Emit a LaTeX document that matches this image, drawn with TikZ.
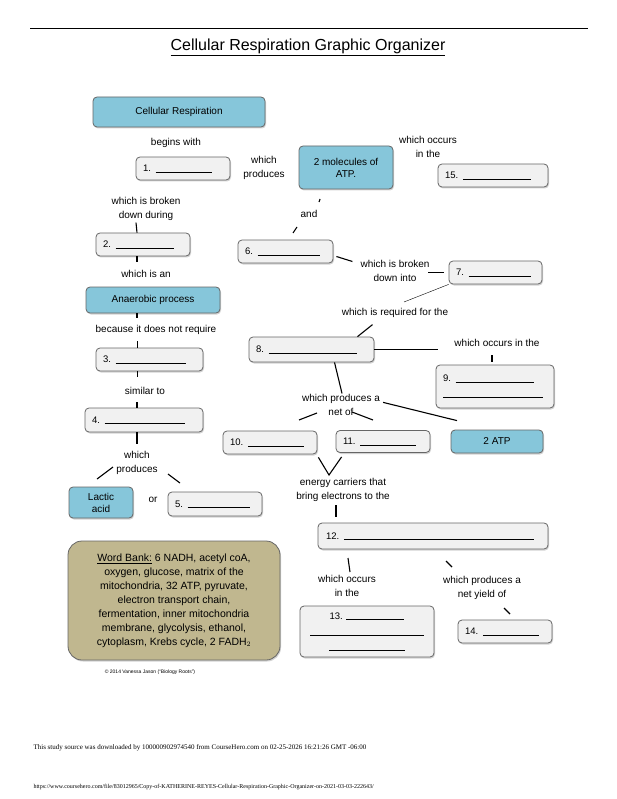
\documentclass[tikz,border=0pt]{standalone}
\usepackage{fontspec}
\setmainfont{Liberation Sans}
\newfontfamily\footfont{Liberation Serif}
\usetikzlibrary{positioning, shadows}

\definecolor{cellblue}{RGB}{134,198,218}
\definecolor{blankgray}{RGB}{241,241,241}
\definecolor{banktan}{RGB}{192,183,143}

\tikzset{
  box/.style={draw=black!60, line width=0.8pt, rounded corners=4pt,
    drop shadow={shadow xshift=1pt, shadow yshift=-1.5pt, fill=black!35},
    inner sep=0pt, font=\fontsize{9.5}{11.5}\selectfont},
  blank/.style={box, fill=blankgray, align=left},
  blue/.style={box, fill=cellblue, align=center, font=\fontsize{10}{12}\selectfont},
  lbl/.style={align=center, inner sep=1pt, font=\fontsize{10}{13.5}\selectfont},
  tick/.style={line width=1.1pt},
}
\newcommand{\gap}[1]{\rule[-0.5pt]{#1pt}{0.4pt}}

\begin{document}
\begin{tikzpicture}[x=1pt, y=-1pt]
\useasboundingbox (0,0) rectangle (617,799);
\draw[line width=0.6pt] (30,28) -- (588,28);
\node[font=\fontsize{16}{18}\selectfont] (title) at (308,47) {\underline{Cellular Respiration Graphic Organizer}};

% left column
\node[blue, minimum width=172, minimum height=30] (cr) at (179,112) {Cellular Respiration};
\node[lbl] (t1) at (176,143) {begins with};
\node[blank, minimum width=94, minimum height=23, text width=80] (b1) at (183,168.5) {1. \gap{56}};
\node[lbl] (t2) at (146,209) {which is broken\\down during};
\node[blank, minimum width=94, minimum height=23, text width=80] (b2) at (143,244.5) {2. \gap{58}};
\node[lbl] (t3) at (146,274) {which is an};
\node[blue, minimum width=134, minimum height=26] (ana) at (153,300) {Anaerobic process};
\node[lbl] (t4) at (156,330) {because it does not require};
\node[blank, minimum width=107, minimum height=23, text width=93] (b3) at (149.5,359.5) {3. \gap{70}};
\node[lbl] (t5) at (145,391) {similar to};
\node[blank, minimum width=118, minimum height=24, text width=104] (b4) at (144,420) {4. \gap{80}};
\node[lbl] (t6) at (137,463) {which\\produces};
\node[blue, minimum width=64, minimum height=31] (lac) at (101,502.5) {Lactic\\acid};
\node[lbl] (or) at (153,500) {or};
\node[blank, minimum width=94, minimum height=24, text width=80] (b5) at (215,504) {5. \gap{62}};

\draw[tick] (t2.south) ++(-10,1) -- ([xshift=-6]b2.north);
\draw[tick] ([xshift=-6]b2.south) -- ++(0,6);
\draw[tick] ([xshift=-16]ana.south) -- ++(0,5);
\draw[tick] ([xshift=-12]b3.north) -- ++(0,-7);
\draw[tick] ([xshift=-12]b3.south) -- ++(0,6);
\draw[tick] ([xshift=-7]b4.north) -- ++(0,-6);
\draw[tick] ([xshift=-7]b4.south) -- ++(0,12);
\draw[tick] (97,479) -- (113,467);
\draw[tick] (168,474) -- (180,483);

% middle and right
\node[lbl] (t7) at (264,168) {which\\produces};
\node[blue, minimum width=94, minimum height=43] (atp) at (346,167.5) {2 molecules of\\ATP.};
\node[lbl] (t8) at (428,147) {which occurs\\in the};
\node[blank, minimum width=110, minimum height=23, text width=96] (b15) at (493,175.5) {15. \gap{68}};
\node[lbl] (t9) at (309,214) {and};
\draw[tick] (320,199) -- (319,202);
\draw[tick] (293,233) -- (297,227);
\node[blank, minimum width=95, minimum height=23, text width=81] (b6) at (285.5,251.5) {6. \gap{62}};
\node[lbl] (t10) at (395,271) {which is broken\\down into};
\node[blank, minimum width=93, minimum height=23, text width=79] (b7) at (495.5,272.5) {7. \gap{62}};
\draw[tick] ([xshift=3,yshift=-5]b6.east) -- ++(16,5);
\draw[tick] ([xshift=-5]b7.west) -- ++(-16,0);
\draw[line width=0.4pt] (b7.south west) -- (404,302);
\node[lbl] (t11) at (395,313) {which is required for the};
\node[blank, minimum width=125, minimum height=25, text width=111] (b8) at (311.5,349.5) {8. \gap{88}};
\draw[tick] ([xshift=46]b8.north) -- ++(15,-12);
\draw[tick] (b8.east) -- ++(64,0);
\node[lbl] (t12) at (497,343) {which occurs in the};
\node[blank, minimum width=118, minimum height=43, text width=104] (b9) at (495,386.5)
  {9. \gap{78}\\[4pt]\gap{100}};
\draw[tick] ([xshift=-3,yshift=3]b9.north) -- ++(0,-7);
\node[lbl] (t13) at (341,405) {which produces a\\net of};
\draw[tick] ([xshift=23]b8.south) -- ([xshift=1]t13.north);
\node[blank, minimum width=94, minimum height=23, text width=80] (b10) at (270,442.5) {10. \gap{56}};
\node[blank, minimum width=94, minimum height=22, text width=80] (b11) at (383,441.5) {11. \gap{56}};
\node[blue, minimum width=92, minimum height=23] (twoatp) at (497,441.5) {2 ATP};
\draw[tick] ([xshift=2,yshift=-9]t13.north east) -- ([xshift=-40,yshift=9]twoatp.north);
\draw[tick] (299,420) -- (317,413);
\draw[tick] (352,412) -- (373,420);
\node[lbl] (t14) at (343,490) {energy carriers that\\bring electrons to the};
\draw[tick] ([xshift=1,yshift=-3]b10.south east) -- (329,475) -- ([xshift=6,yshift=-4]b11.south west);
\node[blank, minimum width=230, minimum height=26, text width=214] (b12) at (433,536) {12. \gap{190}};
\draw[tick] (336,505) -- (336,517);
\draw[tick] (348,558) -- (350,572);
\node[lbl] (t15) at (347,586) {which occurs\\in the};
\draw[tick] (446,561) -- (452,567);
\node[lbl] (t16) at (482,588) {which produces a\\net yield of};
\draw[tick] (504,608) -- (510,614);
\node[blank, minimum width=134, minimum height=51, align=center] (b13) at (367,631.5)
  {13. \gap{58}\\[4pt]\gap{114}\\[4pt]\gap{76}};
\node[blank, minimum width=94, minimum height=23, text width=80] (b14) at (505,631.5) {14. \gap{56}};

% word bank
\node[box, fill=banktan, rounded corners=14pt, minimum width=212, minimum height=119,
  align=center, font=\fontsize{10.5}{14}\selectfont] (bank) at (174,600.5)
  {\underline{Word Bank:} 6 NADH, acetyl coA,\\oxygen, glucose, matrix of the\\mitochondria, 32 ATP, pyruvate,\\electron transport chain,\\fermentation, inner mitochondria\\membrane, glycolysis, ethanol,\\cytoplasm, Krebs cycle, 2 FADH$_2$};
\node[font=\fontsize{5}{6}\selectfont] (copy) at (150,672) {\copyright\ 2014 Vanessa Jason (``Biology Roots'')};

% footer
\node[anchor=west, font=\footfont\fontsize{7}{8}\selectfont] (foot1) at (30,748)
  {This study source was downloaded by 100000902974540 from CourseHero.com on 02-25-2026 16:21:26 GMT -06:00};
\node[anchor=west, font=\footfont\fontsize{6}{7}\selectfont] (foot2) at (30,787)
  {https://www.coursehero.com/file/83012965/Copy-of-KATHERINE-REYES-Cellular-Respiration-Graphic-Organizer-on-2021-03-03-222643/};
\end{tikzpicture}
\end{document}
